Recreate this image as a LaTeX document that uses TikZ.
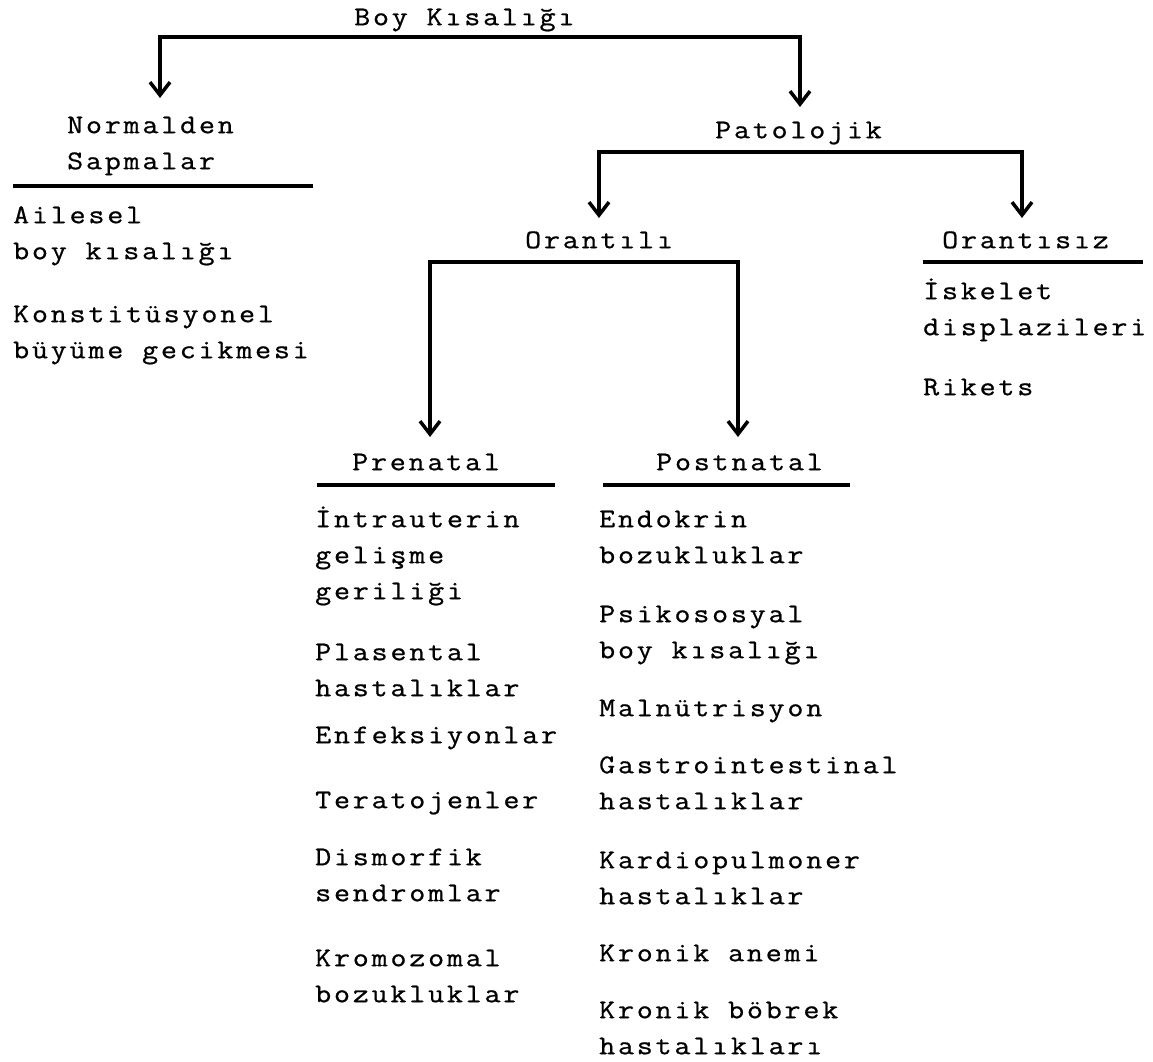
\documentclass[tikz,border=0pt]{standalone}
\usepackage{fontspec}
\usetikzlibrary{arrows.meta}
\newfontfamily\twfont{Latin Modern Mono}[LetterSpace=10.5,FakeStretch=1.15,FakeBold=0.8]
\newcommand\fs{\rule{0pt}{26pt}}
\tikzset{
  txt/.style={anchor=north west, inner sep=0pt, align=left, yshift=2pt,
    font=\twfont\fontsize{27}{36}\selectfont},
  barline/.style={line width=3.5pt, line join=miter},
  rulebar/.style={line width=3.5pt},
  arrboth/.style={{Straight Barb[length=13pt,width=20pt]}-{Straight Barb[length=13pt,width=20pt]}},
}
\begin{document}
\begin{tikzpicture}[x=1pt,y=-1pt]
\fill[white] (0,0) rectangle (1153,1062);
\useasboundingbox (0,0) rectangle (1153,1062);

% headings
\node[txt] (boy) at (354,1) {\fs Boy Kısalığı};
\node[txt] (norm) at (67,109) {\fs Normalden\\Sapmalar};
\node[txt] (pat) at (715,114) {\fs Patolojik};
\node[txt] (orl) at (525,224) {\fs Orantılı};
\node[txt] (orsz) at (942,224) {\fs Orantısız};
\node[txt] (pre) at (352,446) {\fs Prenatal};
\node[txt] (post) at (656,446) {\fs Postnatal};

% left list
\node[txt] (ail) at (13,199) {\fs Ailesel\\boy kısalığı};
\node[txt] (kon) at (13,298) {\fs Konstitüsyonel\\büyüme gecikmesi};

% orantisiz list
\node[txt] (isk) at (923,275) {\fs İskelet\\displazileri};
\node[txt] (rik) at (923,371) {\fs Rikets};

% prenatal list
\node[txt] (intr) at (315,503) {\fs İntrauterin\\gelişme\\geriliği};
\node[txt] (plas) at (315,636) {\fs Plasental\\hastalıklar};
\node[txt] (enf) at (315,719) {\fs Enfeksiyonlar};
\node[txt] (ter) at (315,784) {\fs Teratojenler};
\node[txt] (dis) at (315,841) {\fs Dismorfik\\sendromlar};
\node[txt] (kro) at (315,942) {\fs Kromozomal\\bozukluklar};

% postnatal list
\node[txt] (endo) at (599,503) {\fs Endokrin\\bozukluklar};
\node[txt] (psi) at (599,598) {\fs Psikososyal\\boy kısalığı};
\node[txt] (mal) at (599,692) {\fs Malnütrisyon};
\node[txt] (gas) at (599,749) {\fs Gastrointestinal\\hastalıklar};
\node[txt] (kar) at (599,844) {\fs Kardiopulmoner\\hastalıklar};
\node[txt] (kan) at (599,937) {\fs Kronik anemi};
\node[txt] (kbb) at (599,994) {\fs Kronik böbrek\\hastalıkları};

% rules under headings
\draw[rulebar] (13,186) -- (313,186);
\draw[rulebar] (923,262) -- (1143,262);
\draw[rulebar] (317,485) -- (555,485);
\draw[rulebar] (603,485) -- (850,485);

% connectors
\coordinate (j1) at (480,37);
\coordinate (tA) at (160,98);
\coordinate (tB) at (800,107);
\draw[barline,arrboth] (tA) |- (j1) -| (tB);

\coordinate (j2) at (810,152);
\coordinate (tC) at (599,218);
\coordinate (tD) at (1022,218);
\draw[barline,arrboth] (tC) |- (j2) -| (tD);

\coordinate (j3) at (584,262);
\coordinate (tE) at (430,437);
\coordinate (tF) at (738,437);
\draw[barline,arrboth] (tE) |- (j3) -| (tF);
\end{tikzpicture}
\end{document}
